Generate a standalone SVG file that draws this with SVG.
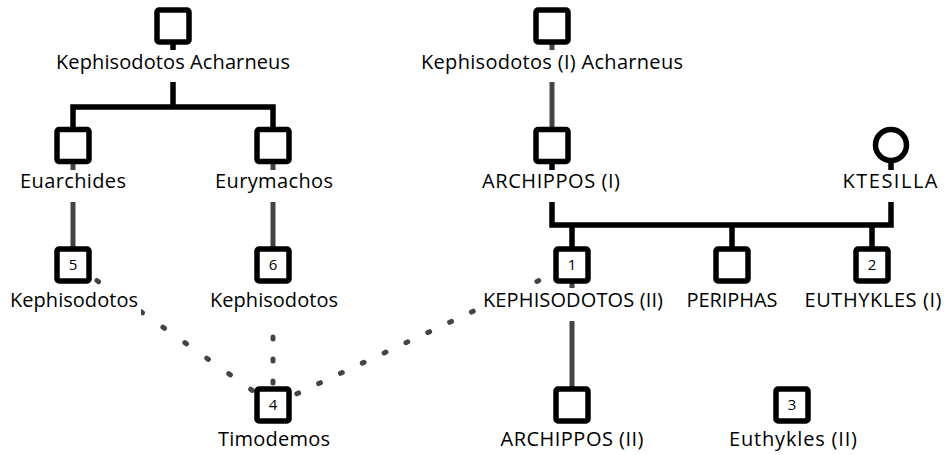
<svg xmlns="http://www.w3.org/2000/svg" width="947" height="455" viewBox="0 0 947 455">
  <style>
    .sq { fill: #fff; stroke: #000; stroke-width: 5.5; }
    .bg { fill: #fff; }
    .lbl { font-family: "Open Sans", "Liberation Sans", sans-serif; font-size: 20px; text-anchor: middle; fill: #000; }
    .num { font-family: "Open Sans", "Liberation Sans", sans-serif; font-size: 15px; text-anchor: middle; fill: #000; }
    .kin { stroke: #000; stroke-width: 5.5; fill: none; stroke-linejoin: miter; }
    .desc { stroke: #444; stroke-width: 5; fill: none; }
    .dot { stroke: #444; stroke-width: 5; stroke-linecap: round; fill: none; }
  </style>
  <rect width="947" height="455" fill="#fff"/>

  <!-- connectors: drawn first so node boxes and label backgrounds sit on top -->
  <g id="connectors">
    <!-- sibling bar under Kephisodotos Acharneus -->
    <path class="kin" d="M173,26 V107 M73,146 V107 H273 V146"/>
    <!-- marriage of Archippos (I) and Ktesilla, with their sons -->
    <path class="kin" d="M552,146 V225 H891 V145 M572,225 V265 M732,225 V265 M872,225 V265"/>
    <!-- father-son descent lines -->
    <line class="desc" x1="552" y1="26" x2="552" y2="146"/>
    <line class="desc" x1="73" y1="146" x2="73" y2="265"/>
    <line class="desc" x1="273" y1="146" x2="273" y2="265"/>
    <line class="desc" x1="572" y1="265" x2="572" y2="405"/>
    <!-- uncertain relations to Timodemos -->
    <line class="dot" x1="75" y1="265" x2="273" y2="405" stroke-dasharray="2 24.9"/>
    <line class="dot" x1="273" y1="271" x2="273" y2="403" stroke-dasharray="2 20"/>
    <line class="dot" x1="275" y1="404" x2="572" y2="265" stroke-dasharray="2 22.1"/>
  </g>

  <g id="kephisodotos-acharneus">
    <rect class="sq" x="157" y="10" width="32" height="32" rx="2"/>
    <rect class="bg" x="54" y="50" width="239" height="32"/>
    <text class="lbl" x="173" y="69" textLength="234">Kephisodotos Acharneus</text>
  </g>

  <g id="kephisodotos-i-acharneus">
    <rect class="sq" x="536" y="10" width="32" height="32" rx="2"/>
    <rect class="bg" x="418" y="50" width="268" height="32"/>
    <text class="lbl" x="552" y="69" textLength="262">Kephisodotos (I) Acharneus</text>
  </g>

  <g id="euarchides">
    <rect class="sq" x="57" y="129.5" width="32" height="32" rx="2"/>
    <rect class="bg" x="17" y="170" width="112" height="32"/>
    <text class="lbl" x="73" y="188" textLength="106">Euarchides</text>
  </g>

  <g id="eurymachos">
    <rect class="sq" x="257" y="129.5" width="32" height="32" rx="2"/>
    <rect class="bg" x="212" y="170" width="124" height="32"/>
    <text class="lbl" x="274" y="188" textLength="118">Eurymachos</text>
  </g>

  <g id="archippos-i">
    <rect class="sq" x="536" y="129.5" width="32" height="32" rx="2"/>
    <rect class="bg" x="479" y="170" width="144" height="32"/>
    <text class="lbl" x="551" y="188" textLength="138">ARCHIPPOS (I)</text>
  </g>

  <g id="ktesilla">
    <circle cx="891" cy="145" r="15.5" fill="#fff" stroke="#000" stroke-width="5.5"/>
    <rect class="bg" x="840" y="170" width="101" height="32"/>
    <text class="lbl" x="890" y="188" textLength="95">KTESILLA</text>
  </g>

  <g id="kephisodotos-5">
    <rect class="sq" x="57" y="249" width="32" height="32" rx="2"/>
    <text class="num" x="73" y="270">5</text>
    <rect class="bg" x="7" y="288" width="134" height="33"/>
    <text class="lbl" x="74" y="307" textLength="128">Kephisodotos</text>
  </g>

  <g id="kephisodotos-6">
    <rect class="sq" x="257" y="249" width="32" height="32" rx="2"/>
    <text class="num" x="273" y="270">6</text>
    <rect class="bg" x="207" y="288" width="134" height="33"/>
    <text class="lbl" x="274" y="307" textLength="128">Kephisodotos</text>
  </g>

  <g id="kephisodotos-ii">
    <rect class="sq" x="556" y="249" width="32" height="32" rx="2"/>
    <text class="num" x="572" y="270">1</text>
    <rect class="bg" x="480" y="288" width="186" height="33"/>
    <text class="lbl" x="573" y="307" textLength="180">KEPHISODOTOS (II)</text>
  </g>

  <g id="periphas">
    <rect class="sq" x="716" y="249" width="32" height="32" rx="2"/>
    <rect class="bg" x="684" y="288" width="97" height="33"/>
    <text class="lbl" x="732" y="307" textLength="91">PERIPHAS</text>
  </g>

  <g id="euthykles-i">
    <rect class="sq" x="856" y="249" width="32" height="32" rx="2"/>
    <text class="num" x="872" y="270">2</text>
    <rect class="bg" x="802" y="288" width="143" height="33"/>
    <text class="lbl" x="873" y="307" textLength="137">EUTHYKLES (I)</text>
  </g>

  <g id="timodemos">
    <rect class="sq" x="257" y="389" width="32" height="32" rx="2"/>
    <text class="num" x="273" y="410">4</text>
    <rect class="bg" x="215" y="427" width="118" height="28"/>
    <text class="lbl" x="274" y="446" textLength="112">Timodemos</text>
  </g>

  <g id="archippos-ii">
    <rect class="sq" x="556" y="389" width="32" height="32" rx="2"/>
    <rect class="bg" x="497" y="427" width="149" height="28"/>
    <text class="lbl" x="572" y="446" textLength="143">ARCHIPPOS (II)</text>
  </g>

  <g id="euthykles-ii">
    <rect class="sq" x="776" y="389" width="32" height="32" rx="2"/>
    <text class="num" x="792" y="410">3</text>
    <rect class="bg" x="726" y="427" width="134" height="28"/>
    <text class="lbl" x="793" y="446" textLength="128">Euthykles (II)</text>
  </g>
</svg>
